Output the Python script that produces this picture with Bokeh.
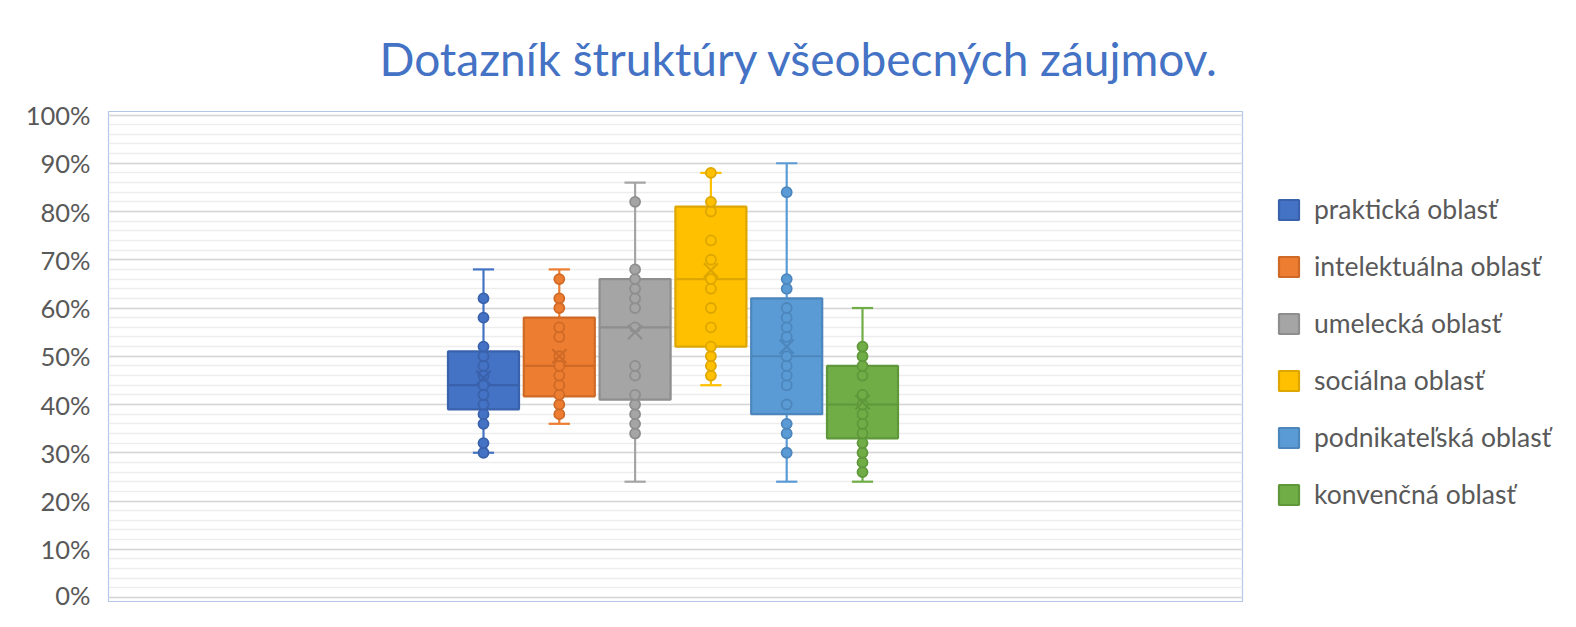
from bokeh.plotting import figure
from bokeh.models import Range1d, FixedTicker, PrintfTickFormatter, Legend, LegendItem, ColumnDataSource
from bokeh.embed import file_html
from bokeh.resources import INLINE

title_text = "Dotazník štruktúry všeobecných záujmov."
categories = ["praktická oblasť", "intelektuálna oblasť", "umelecká oblasť",
              "sociálna oblasť", "podnikateľská oblasť", "konvenčná oblasť"]
fill_colors = ["#4472C4", "#ED7D31", "#A5A5A5", "#FFC000", "#5B9BD5", "#70AD47"]
line_colors = ["#3A62AC", "#CF6A26", "#8E8E8E", "#DDA600", "#4C86BC", "#5F973B"]

# box statistics (percent)
whisker_low = [30, 36, 24, 44, 24, 24]
quartile1 = [39, 41.7, 41, 52, 38, 33]
medians = [44, 48, 56, 66, 50, 40]
quartile3 = [51, 58, 66, 81, 62, 48]
whisker_high = [68, 68, 86, 88, 90, 60]
means = [45.5, 50, 55, 67.8, 52, 40.5]

# inner points (percent)
pts_prakticka = [30, 32, 36, 38, 40, 42, 44, 46, 48, 50, 52, 58, 62]
pts_intelektualna = [38, 40, 42, 44, 46, 48, 50, 54, 56, 60, 62, 66]
pts_umelecka = [34, 36, 38, 40, 42, 46, 48, 56, 60, 62, 64, 66, 68, 82]
pts_socialna = [46, 48, 50, 52, 56, 60, 64, 66, 70, 74, 80, 82, 88]
pts_podnikatelska = [30, 34, 36, 40, 44, 46, 48, 50, 54, 56, 58, 60, 64, 66, 84]
pts_konvencna = [26, 28, 30, 32, 34, 36, 38, 40, 42, 46, 48, 50, 52]
all_points = [pts_prakticka, pts_intelektualna, pts_umelecka,
              pts_socialna, pts_podnikatelska, pts_konvencna]

y_ticks = list(range(0, 101, 10))
y_minor = list(range(0, 101, 2))

FONT = "Lato"
BOX_W = 0.937
CAP_W = 0.28

p = figure(frame_width=1134, frame_height=490,
           x_range=Range1d(-7.447, 7.513), y_range=Range1d(-0.83, 100.73),
           output_backend="svg", toolbar_location=None,
           min_border_left=108, min_border_top=111, min_border_bottom=8,
           min_border_right=318)

p.title.text = title_text
p.title.text_font = FONT
p.title.text_font_size = "46px"
p.title.text_font_style = "normal"
p.title.text_color = "#4472C4"
p.title.align = "left"
p.title.offset = 271
p.title.standoff = 51

p.outline_line_color = "#B4C7E7"
p.outline_line_width = 1.2
p.xaxis.visible = False
p.xgrid.visible = False

ax = p.yaxis[0]
ax.ticker = FixedTicker(ticks=y_ticks, minor_ticks=y_minor)
ax.formatter = PrintfTickFormatter(format="%d%%")
ax.axis_line_color = None
ax.major_tick_line_color = None
ax.minor_tick_line_color = None
ax.major_label_standoff = 12
ax.major_label_text_font = FONT
ax.major_label_text_font_size = "25.5px"
ax.major_label_text_color = "#595959"

p.ygrid.grid_line_color = "#D6D6D6"
p.ygrid.grid_line_width = 1.6
p.ygrid.minor_grid_line_color = "#EDEDED"
p.ygrid.minor_grid_line_width = 1.6

items = []
for i, name in enumerate(categories):
    xc = i - 2.5
    fc, lc = fill_colors[i], line_colors[i]
    src = ColumnDataSource(dict(x=[xc], lo=[whisker_low[i]], q1=[quartile1[i]],
                                med=[medians[i]], q3=[quartile3[i]],
                                hi=[whisker_high[i]], mean=[means[i]],
                                cl=[xc - CAP_W / 2], cr=[xc + CAP_W / 2],
                                bl=[xc - BOX_W / 2], br=[xc + BOX_W / 2]))
    p.segment(x0="x", y0="q3", x1="x", y1="hi", source=src, line_color=fc, line_width=2.2)
    p.segment(x0="x", y0="q1", x1="x", y1="lo", source=src, line_color=fc, line_width=2.2)
    p.segment(x0="cl", y0="hi", x1="cr", y1="hi", source=src, line_color=fc, line_width=2.2)
    p.segment(x0="cl", y0="lo", x1="cr", y1="lo", source=src, line_color=fc, line_width=2.2)
    box = p.vbar(x="x", width=BOX_W, top="q3", bottom="q1", source=src,
                 fill_color=fc, line_color=lc, line_width=2.2)
    p.segment(x0="bl", y0="med", x1="br", y1="med", source=src, line_color=lc, line_width=2.2)
    pts = all_points[i]
    p.scatter(x=[xc] * len(pts), y=pts, marker="circle", size=10,
              fill_color=fc, line_color=lc, line_width=1.8)
    p.scatter(x="x", y="mean", source=src, marker="x", size=20, line_color=lc, line_width=2.2)
    items.append(LegendItem(label=name, renderers=[box]))

legend = Legend(items=items, location=(34, 91), margin=0, padding=0,
                spacing=25, glyph_width=25, glyph_height=25, label_height=25,
                label_standoff=13, label_text_font=FONT, label_text_font_size="26.5px",
                label_text_color="#595959", border_line_alpha=0,
                background_fill_alpha=0)
p.add_layout(legend, "right")

open("out.html", "w").write(file_html(p, INLINE))
